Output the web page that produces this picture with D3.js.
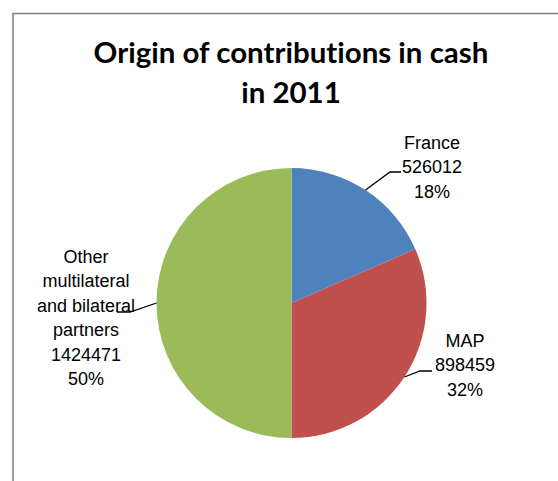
<!DOCTYPE html>
<html>
<head>
<meta charset="utf-8">
<script src="https://cdn.jsdelivr.net/npm/d3@7"></script>
<style>
  html, body { margin: 0; padding: 0; background: #fff; overflow: hidden; }
  text { font-variant-ligatures: none; }
</style>
</head>
<body>
<div id="chart"></div>
<script>
// Chart data
var categories = ["France", "MAP", "Other multilateral and bilateral partners"];
var values = [526012, 898459, 1424471];
var percents = ["18%", "32%", "50%"];
var colors = ["#4F81BD", "#C0504D", "#9BBB59"];
var title_lines = ["Origin of contributions in cash", "in 2011"];

// Label text lines (category wrapped as in the picture)
var label_lines = [
  ["France"],
  ["MAP"],
  ["Other", "multilateral", "and bilateral", "partners"]
];

var WIDTH = 558, HEIGHT = 481;
var CX = 291.5, CY = 303, RADIUS = 135;
var LINE_H = 24.4;

// Label layout: text center x, first baseline y, leader elbow and end
var label_layout = [
  {x: 432, y: 149, elbow: [390, 172], end: [401, 172]},
  {x: 465, y: 347, elbow: [420, 371], end: [432, 371]},
  {x: 86,  y: 263, elbow: [130, 312], end: [117, 312]}
];

var svg = d3.select("#chart")
  .append("svg")
    .attr("width", WIDTH)
    .attr("height", HEIGHT);

// Chart area border (only top and left visible)
svg.append("rect")
   .attr("x", 13)
   .attr("y", 13.5)
   .attr("width", 700)
   .attr("height", 700)
   .attr("fill", "none")
   .attr("stroke", "#868686")
   .attr("stroke-width", 1.6);

// Title
let title = svg.append("text")
  .attr("text-anchor", "middle")
  .attr("font-family", "Lato, 'Open Sans', sans-serif")
  .attr("font-weight", "bold")
  .attr("fill", "#000")
  .attr("font-size", 26);

title.selectAll("tspan")
  .data(title_lines)
  .enter()
  .append("tspan")
    .attr("x", 291)
    .attr("y", (d, i) => 63 + i * 40)
    .text(d => d);

// fit first title line to the width seen in the picture
let first_len = title.select("tspan").node().getComputedTextLength();
title.attr("font-size", 26 * 395 / first_len);

// Pie
let pie = d3.pie().sort(null).value(d => d)(values);
let arc = d3.arc().innerRadius(0).outerRadius(RADIUS);
let edge = d3.arc().innerRadius(RADIUS).outerRadius(RADIUS);

let g = svg.append("g").attr("transform", `translate(${CX},${CY})`);

g.selectAll("path")
  .data(pie)
  .enter()
  .append("path")
    .attr("d", arc)
    .attr("fill", (d, i) => colors[i]);

// Leader lines
pie.forEach(function(d, i) {
  let c = edge.centroid(d);
  let lay = label_layout[i];
  let pts = [[CX + c[0], CY + c[1]], lay.elbow, lay.end];
  svg.append("path")
     .attr("d", d3.line()(pts))
     .attr("fill", "none")
     .attr("stroke", "#000")
     .attr("stroke-width", 1.3);
});

// Data labels
pie.forEach(function(d, i) {
  let lay = label_layout[i];
  let lines = label_lines[i].concat([String(values[i]), percents[i]]);
  let t = svg.append("text")
    .attr("text-anchor", "middle")
    .attr("font-family", "'Liberation Sans', Arial, sans-serif")
    .attr("font-size", 18)
    .attr("fill", "#000");
  t.selectAll("tspan")
    .data(lines)
    .enter()
    .append("tspan")
      .attr("x", lay.x)
      .attr("y", (s, j) => lay.y + j * LINE_H)
      .text(s => s);
});
</script>
</body>
</html>
